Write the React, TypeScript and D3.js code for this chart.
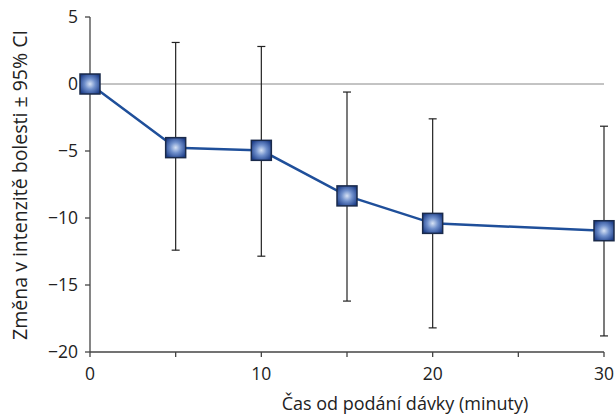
import React from "react";
import * as d3 from "d3";

const times = [0, 5, 10, 15, 20, 30];
const means = [0, -4.75, -4.95, -8.35, -10.4, -10.95];
const upper = [0, 3.1, 2.8, -0.6, -2.6, -3.15];
const lower = [0, -12.4, -12.85, -16.2, -18.2, -18.8];
const xTicks = [0, 5, 10, 15, 20, 25, 30];
const xTickLabels = [0, 10, 20, 30];
const yTicks = [5, 0, -5, -10, -15, -20];

const W = 615, H = 417;
const x0 = 90, x1 = 604, yTop = 17, yBot = 352;

export default function App() {
  const x = d3.scaleLinear().domain([0, 30]).range([x0, x1]);
  const y = d3.scaleLinear().domain([-20, 5]).range([yBot, yTop]);
  const line = d3.line<number>().x((_, i) => x(times[i])).y((d) => y(d));
  const font = "'Open Sans', sans-serif";
  const ms = 20;
  return (
    <svg width={W} height={H} style={{ position: "absolute", left: 0, top: 0 }} fontFamily={font}>
      <defs>
        <radialGradient id="mg" cx="50%" cy="50%" r="60%">
          <stop offset="0%" stopColor="#d6e2f5" />
          <stop offset="45%" stopColor="#6f8fcb" />
          <stop offset="100%" stopColor="#1e3f8a" />
        </radialGradient>
      </defs>
      {/* zero line */}
      <line x1={x0} x2={x1} y1={y(0)} y2={y(0)} stroke="#888" strokeWidth={1} />
      {/* axes */}
      <line x1={x0} x2={x0} y1={yTop} y2={yBot} stroke="#444" strokeWidth={1.3} />
      <line x1={x0} x2={x1} y1={yBot} y2={yBot} stroke="#444" strokeWidth={1.3} />
      {yTicks.map((t) => (
        <g key={t}>
          <line x1={x0 - 5} x2={x0} y1={y(t)} y2={y(t)} stroke="#444" strokeWidth={1.3} />
          <text x={x0 - 12} y={y(t)} dy="0.36em" textAnchor="end" fontSize={17.5} fill="#222">
            {t < 0 ? "\u2212" + Math.abs(t) : t}
          </text>
        </g>
      ))}
      {xTicks.map((t) => (
        <line key={t} x1={x(t)} x2={x(t)} y1={yBot} y2={yBot + 5} stroke="#444" strokeWidth={1.3} />
      ))}
      {xTickLabels.map((t) => (
        <text key={t} x={x(t)} y={yBot + 28} textAnchor="middle" fontSize={17.5} fill="#222">
          {t}
        </text>
      ))}
      <text x={405} y={410} textAnchor="middle" fontSize={18} fill="#222">
        Čas od podání dávky (minuty)
      </text>
      <text
        transform={`translate(27, 185) rotate(-90)`}
        textAnchor="middle"
        fontSize={19.5}
        fill="#222"
      >
        Změna v intenzitě bolesti ± 95% CI
      </text>
      {/* error bars */}
      {times.map((t, i) =>
        i === 0 ? null : (
          <g key={t} stroke="#222" strokeWidth={1.2}>
            <line x1={x(t)} x2={x(t)} y1={y(upper[i])} y2={y(lower[i])} />
            <line x1={x(t) - 4} x2={x(t) + 4} y1={y(upper[i])} y2={y(upper[i])} />
            <line x1={x(t) - 4} x2={x(t) + 4} y1={y(lower[i])} y2={y(lower[i])} />
          </g>
        )
      )}
      <path d={line(means) || ""} fill="none" stroke="#1f4f9a" strokeWidth={2.5} />
      {times.map((t, i) => (
        <rect
          key={t}
          x={x(t) - ms / 2}
          y={y(means[i]) - ms / 2}
          width={ms}
          height={ms}
          fill="url(#mg)"
          stroke="#1a2a4a"
          strokeWidth={1.5}
        />
      ))}
    </svg>
  );
}
